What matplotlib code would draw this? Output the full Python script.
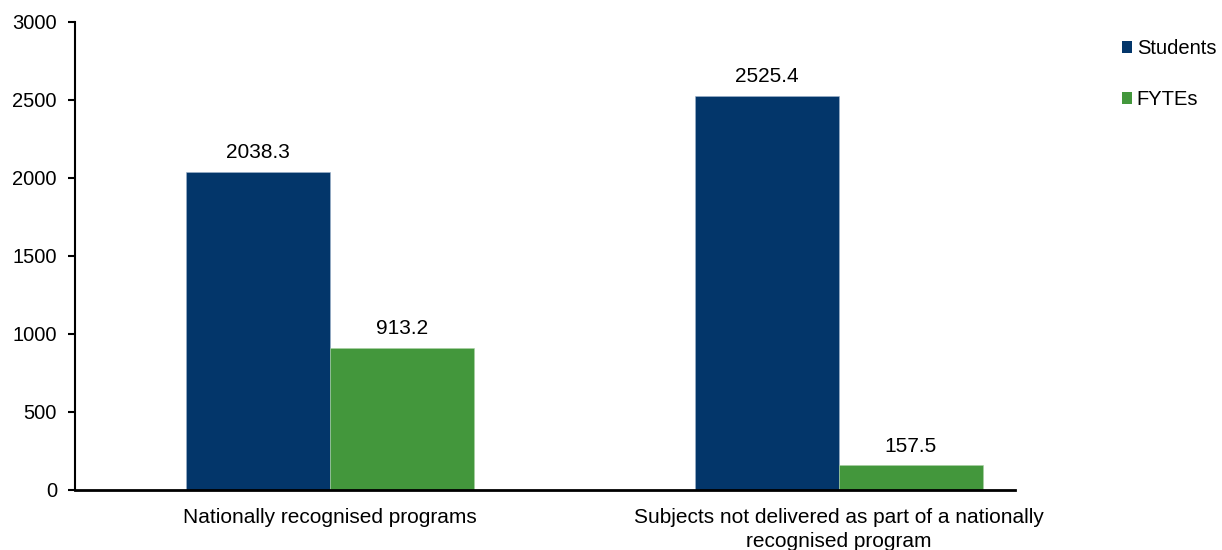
import numpy as np
import matplotlib.pyplot as plt
from matplotlib.patches import Patch

plt.rcParams['font.family'] = ['Liberation Sans', 'DejaVu Sans']

categories = ['Nationally recognised programs',
              'Subjects not delivered as part of a nationally\nrecognised program']
students = [2038.3, 2525.4]
fytes = [913.2, 157.5]
series_names = ['Students', 'FYTEs']
colors = ['#03366A', '#43973C']

fig = plt.figure(figsize=(12.22, 5.5), dpi=100)
ax = fig.add_axes([0.0614, 0.1091, 0.7692, 0.851])

x = np.arange(len(categories))
w = 0.283
b1 = ax.bar(x - w / 2, students, w, color=colors[0], edgecolor='#9fb4cc', linewidth=0.4)
b2 = ax.bar(x + w / 2, fytes, w, color=colors[1], edgecolor='#a9d0a4', linewidth=0.4)

for bars, vals in [(b1, students), (b2, fytes)]:
    for r, v in zip(bars, vals):
        ax.annotate(f'{v:.1f}', (r.get_x() + r.get_width() / 2, v),
                    xytext=(0, 7), textcoords='offset points',
                    ha='center', va='bottom', fontsize=15)

ax.set_xlim(-0.5, 1.346)
ax.set_ylim(0, 3000)
ax.set_yticks(np.arange(0, 3001, 500))
ax.set_xticks(x)
ax.set_xticklabels(categories, fontsize=15, linespacing=1.3)
ax.tick_params(axis='x', length=0, pad=13)
ax.tick_params(axis='y', length=5, width=1.5, direction='out', labelsize=14.5, pad=8)

for s in ['top', 'right']:
    ax.spines[s].set_visible(False)
ax.spines['left'].set_linewidth(1.5)
ax.spines['bottom'].set_linewidth(2)

handles = [Patch(facecolor=c, label=n) for c, n in zip(colors, series_names)]
fig.legend(handles=handles, loc='upper left', bbox_to_anchor=(0.903, 0.962),
           frameon=False, fontsize=14.5, handlelength=0.5, handleheight=0.5,
           handletextpad=0.25, labelspacing=1.6)

fig.savefig('out.png', dpi=100)
